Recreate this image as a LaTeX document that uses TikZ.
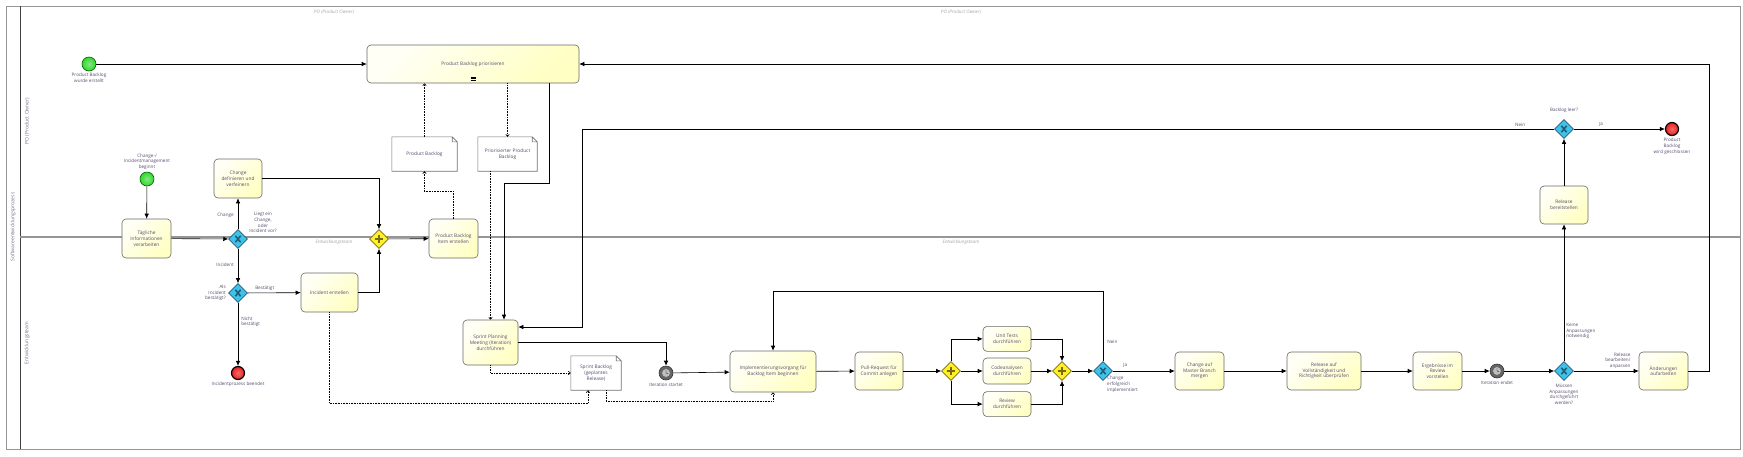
\documentclass[tikz,border=0pt]{standalone}
\usepackage{fontspec}
\setmainfont{Open Sans}
\usetikzlibrary{arrows.meta,positioning,shapes.geometric}
\definecolor{txt}{RGB}{85,75,110}
\definecolor{lanegray}{RGB}{150,150,150}
\definecolor{taskline}{RGB}{105,105,105}
\definecolor{taskfill}{RGB}{255,255,195}
\definecolor{xorfill}{RGB}{60,195,235}
\definecolor{xorline}{RGB}{40,90,115}
\definecolor{andfill}{RGB}{255,240,40}
\definecolor{andline}{RGB}{120,105,20}
\definecolor{startfill}{RGB}{50,215,45}
\definecolor{endfill}{RGB}{235,30,30}

\begin{document}
\begin{tikzpicture}[x=1pt, y=-1pt,
  task/.style={draw=taskline, line width=0.6pt, rounded corners=4pt, top color=taskfill!15, bottom color=taskfill, shading angle=45, minimum width=49pt, minimum height=38pt, inner sep=1pt, align=center, text=txt, font=\fontsize{4.8}{5.7}\selectfont},
  dataobj/.style={fill=white, inner sep=1pt, align=center, text=txt, font=\fontsize{4.8}{5.7}\selectfont},
  xor/.style={diamond, draw=xorline, fill=xorfill, line width=0.6pt, minimum width=19pt, minimum height=19pt, inner sep=0pt,
    path picture={\draw[line width=1.6pt] ([shift={(-2.6pt,-3.2pt)}]path picture bounding box.center) -- ([shift={(2.6pt,3.2pt)}]path picture bounding box.center) ([shift={(-2.6pt,3.2pt)}]path picture bounding box.center) -- ([shift={(2.6pt,-3.2pt)}]path picture bounding box.center);}},
  andgate/.style={diamond, draw=andline, fill=andfill, line width=0.6pt, minimum width=19pt, minimum height=19pt, inner sep=0pt,
    path picture={\draw[line width=1.4pt] ([xshift=-4.2pt]path picture bounding box.center) -- ([xshift=4.2pt]path picture bounding box.center) ([yshift=-4.2pt]path picture bounding box.center) -- ([yshift=4.2pt]path picture bounding box.center);}},
  startev/.style={circle, draw=green!40!black, line width=0.6pt, inner color=startfill!60!white, outer color=startfill, minimum size=14pt, inner sep=0pt},
  endev/.style={circle, draw=black, line width=1.2pt, inner color=endfill!65!white, outer color=endfill, minimum size=13pt, inner sep=0pt},
  timer/.style={circle, draw=black!80, fill=black!60, line width=0.6pt, minimum size=14pt, inner sep=0pt,
    path picture={\fill[black!25] (path picture bounding box.center) circle (4.3pt); \draw[black!70, line width=0.3pt] (path picture bounding box.center) circle (4.3pt);
      \draw[black!85, line width=0.45pt] (path picture bounding box.center) -- ++(0pt,3pt) (path picture bounding box.center) -- ++(2pt,-0.5pt);}},
  flow/.style={line width=0.6pt, -{Latex[length=5pt,width=4.5pt]}},
  assoc/.style={line width=0.6pt, densely dotted, -{Straight Barb[length=2pt,width=3.5pt]}},
  lbl/.style={inner sep=0pt, align=center, text=txt, font=\fontsize{4.6}{5.7}\selectfont},
  lanename/.style={inner sep=0pt, text=txt!80, font=\fontsize{5}{6}\selectfont},
  lanerepeat/.style={inner sep=0pt, text=black!35, font=\itshape\fontsize{4.6}{5.5}\selectfont}]
\useasboundingbox (0,0) rectangle (1743,456);
\fill[white] (0,0) rectangle (1743,456);
% pool and lanes
\draw[lanegray, line width=0.8pt] (6,6) rectangle (1740,449);
\draw[black!75, line width=0.8pt] (20,6) -- (20,449);
\draw[lanegray, line width=1.3pt] (20,237) -- (1740,237);
\node[lanename, rotate=90] (pool) at (13,227) {Softwareentwicklungsprozess};
\node[lanename, rotate=90] (lanepo) at (27,121) {PO (Product Owner)};
\node[lanename, rotate=90] (lanedev) at (27,343) {Entwicklungsteam};
\foreach \x [count=\i] in {334,961} {
  \node[lanerepeat] (porep\i) at (\x,12) {PO (Product Owner)};
  \node[lanerepeat] (devrep\i) at (\x,242) {Entwicklungsteam};
}

% PO lane
\node[startev] (pbstart) at (89,64) {};
\node[lbl, below=2pt of pbstart] (pbstartlbl) {Product Backlog\\wurde erstellt};
\node[task, minimum width=212pt, minimum height=38pt] (prio) at (473,64) {Product Backlog priorisieren};
\foreach \d in {3,4.6,6.2} \draw[line width=0.5pt] ([shift={(-2.5pt,\d pt)}]prio.south) -- ++(5,0);
\node[dataobj, minimum width=65pt, minimum height=34pt] (pbdata) at (424.5,154) {Product Backlog};
\node[dataobj, minimum width=59pt, minimum height=34pt] (priodata) at (507.5,154) {Priorisierter Product\\Backlog};
\node[startev] (cistart) at (147,179) {};
\node[lbl, above=2pt of cistart] (cistartlbl) {Change-/\\Incidentmanagement\\beginnt};
\node[task, minimum height=39pt] (daily) at (146.5,238.5) {Tägliche\\Informationen\\verarbeiten};
\node[task, minimum width=48pt, minimum height=39pt] (chdef) at (238,178.5) {Change\\definieren und\\verfeinern};
\node[xor] (kind) at (238,239) {};
\node[lbl, align=center] (kindlbl) at (263,222.5) {Liegt ein\\Change,\\oder\\Incident vor?};
\node[andgate] (join) at (379,239) {};
\node[task, minimum height=39pt] (pbitem) at (453.5,238.5) {Product Backlog\\Item erstellen};
\node[task, minimum width=48pt] (release) at (1564,205) {Release\\bereitstellen};
\node[xor] (empty) at (1564,129) {};
\node[lbl, above=6pt of empty] (emptylbl) {Backlog leer?};
\node[endev] (pbend) at (1672,129) {};
\node[lbl, below=2pt of pbend] (pbendlbl) {Product\\Backlog\\wird geschlossen};

% Entwicklungsteam lane
\node[xor] (confirm) at (238,293) {};
\node[lbl, align=right, anchor=east] (confirmlbl) at (226,293) {Als\\Incident\\bestätigt?};
\node[task, minimum width=57pt, minimum height=39pt] (incident) at (329.5,292.5) {Incident erstellen};
\node[endev] (incend) at (238,373) {};
\node[lbl, below=2pt of incend] (incendlbl) {Incidentprozess beendet};
\node[task, minimum width=55pt, minimum height=45pt] (sprint) at (490.5,342.5) {Sprint Planning\\Meeting (Iteration)\\durchführen};
\node[dataobj, minimum width=50pt, minimum height=34pt] (sprintdata) at (596,373) {Sprint Backlog\\(geplantes\\Release)};
\node[timer] (itstart) at (666,373) {};
\node[lbl, below=2.5pt of itstart] (itstartlbl) {Iteration startet};
\node[task, minimum width=86pt, minimum height=41pt] (impl) at (773,371.5) {Implementierungsvorgang für\\Backlog Item beginnen};
\node[task, minimum width=48pt] (pull) at (879,371) {Pull-Request für\\Commit anlegen};
\node[andgate] (split) at (951,371) {};
\node[task, minimum width=48pt, minimum height=26pt] (code) at (1007,371) {Codeanalysen\\durchführen};
\node[task, minimum width=48pt, minimum height=25pt, above=6pt of code] (unit) {Unit Tests\\durchführen};
\node[task, minimum width=48pt, minimum height=25pt, below=7pt of code] (review) {Review\\durchführen};
\node[andgate] (sync) at (1062,371) {};
\node[xor] (success) at (1103,371) {};
\node[lbl, align=left, anchor=north west] (successlbl) at (1107,376) {Change\\erfolgreich\\implementiert};
\node[task] (master) at (1199.5,371) {Change auf\\Master Branch\\mergen};
\node[task, minimum width=74pt] (verify) at (1324,371) {Release auf\\Vollständigkeit und\\Richtigkeit überprüfen};
\node[task] (present) at (1437.5,371) {Ergebnisse im\\Review\\vorstellen};
\node[timer] (itend) at (1497,371) {};
\node[lbl, below=2.5pt of itend] (itendlbl) {Iteration endet};
\node[xor] (adjust) at (1564,371) {};
\node[lbl, below=3pt of adjust] (adjustlbl) {Müssen\\Anpassungen\\durchgeführt\\werden?};
\node[task] (rework) at (1663.5,371) {Änderungen\\aufarbeiten};

% data object outlines
\foreach \d in {pbdata,priodata,sprintdata}
  \draw[black!55, line width=0.6pt] (\d.south west) -- (\d.north west) -- ([xshift=-5pt]\d.north east) -- ([yshift=-5pt]\d.north east) -- (\d.south east) -- cycle ([xshift=-5pt]\d.north east) -- ([shift={(-5pt,-5pt)}]\d.north east) -- ([yshift=-5pt]\d.north east);

% sequence flows
\draw[flow] (pbstart) -- (prio);
\draw[flow] (cistart) -- (daily);
\draw[flow] (daily) -- (kind);
\draw[flow] (kind) -- node[lbl, left=4pt, pos=0.45] (lblchange) {Change} (chdef);
\draw[flow] (kind) -- node[lbl, left=4pt, pos=0.45] (lblincident) {Incident} (confirm);
\draw[flow] (chdef) -| (join);
\draw[flow] (confirm) -- node[lbl, above=2pt, pos=0.32] (lblyes) {Bestätigt} (incident);
\draw[flow] (confirm) -- node[lbl, right=3pt, pos=0.3, align=left] (lblno) {Nicht\\bestätigt} (incend);
\draw[flow] (incident) -| (join);
\draw[flow] (join) -- (pbitem);
\draw[flow] ([xshift=76pt]prio.south) -- ++(0,100) -| ([xshift=13.5pt]sprint.north);
\draw[flow] (empty.west) -- node[lbl, above=2pt, pos=0.035] (lblnein) {Nein} ++(-972,0) |- ([yshift=15.5pt]sprint.east);
\draw[flow] (sprint) -| (itstart);
\draw[flow] (itstart) -- (impl);
\draw[flow] (impl) -- (pull);
\draw[flow] (pull) -- (split);
\draw[flow] (split) |- (unit);
\draw[flow] (split) -- (code);
\draw[flow] (split) |- (review);
\draw[flow] (unit) -| (sync);
\draw[flow] (code) -- (sync);
\draw[flow] (review) -| (sync);
\draw[flow] (sync) -- (success);
\draw[flow] (success) -- node[lbl, above=3pt, pos=0.2] (lblja) {Ja} (master);
\draw[flow] (success.north) -- node[lbl, right=4pt, pos=0.28] (lblnein2) {Nein} ++(0,-70) -| (impl.north);
\draw[flow] (master) -- (verify);
\draw[flow] (verify) -- (present);
\draw[flow] (present) -- (itend);
\draw[flow] (itend) -- (adjust);
\draw[flow] (adjust) -- node[lbl, above=2pt, pos=0.68, align=right] (lblrework) {Release\\bearbeiten/\\anpassen} (rework);
\draw[flow] (adjust) -- node[lbl, right=2pt, pos=0.22, align=left] (lblnone) {Keine\\Anpassungen\\notwendig} (release);
\draw[flow] (release) -- (empty);
\draw[flow] (empty) -- node[lbl, above=2pt, pos=0.3] (lblja2) {Ja} (pbend);
\draw[flow] (rework.east) -- ++(21,0) |- (prio.east);

% associations
\draw[assoc] (pbitem.north) -- ++(0,-27) -| (pbdata.south);
\draw[assoc] (pbdata.north) -- (pbdata.north |- prio.south);
\draw[assoc] (priodata.north |- prio.south) -- (priodata.north);
\draw[assoc] (sprint.north |- priodata.south) -- (sprint.north);
\draw[assoc] (sprint.south) |- (sprintdata.west);
\draw[assoc] (incident.south) -- ++(0,91) -| ([xshift=-8pt]sprintdata.south);
\draw[assoc] ([xshift=10pt]sprintdata.south) -- ++(0,11) -| (impl.south);
\end{tikzpicture}
\end{document}
